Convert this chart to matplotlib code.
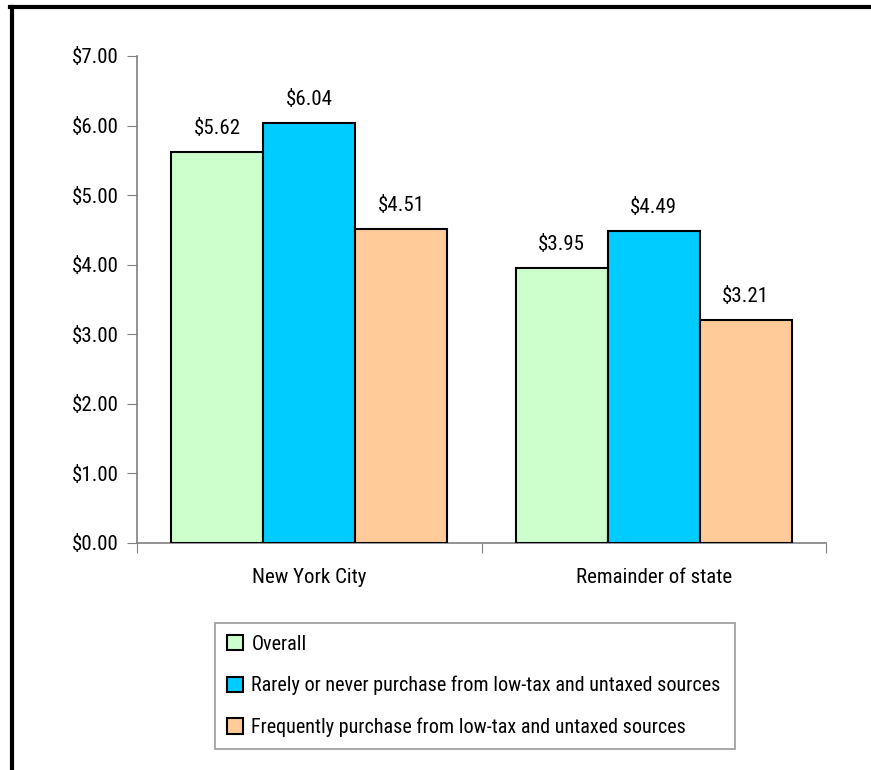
import matplotlib
matplotlib.use("Agg")
import matplotlib.pyplot as plt
from matplotlib.lines import Line2D
from matplotlib import font_manager
from matplotlib.font_manager import FontProperties
import numpy as np

categories = ["New York City", "Remainder of state"]
series_names = ["Overall",
                "Rarely or never purchase from low-tax and untaxed sources",
                "Frequently purchase from low-tax and untaxed sources"]
overall = [5.62, 3.95]
rarely = [6.04, 4.49]
frequently = [4.51, 3.21]
y_ticks = [0, 1, 2, 3, 4, 5, 6, 7]

colors = ["#CCFFCC", "#00CCFF", "#FFCC99"]

# find a condensed font if one is installed
fname = None
prefs = ["liberationsansnarrow-regular", "robotocondensed-regular", "opensanscondensed",
         "dejavusanscondensed.ttf", "notosans-condensed"]
files = [f.fname for f in font_manager.fontManager.ttflist]
for p in prefs:
    for f in files:
        if p in f.lower().replace(" ", "").replace("_", "-"):
            fname = f
            break
    if fname:
        break
if fname is None:
    for f in files:
        fl = f.lower()
        if ("condensed" in fl or "narrow" in fl) and "bold" not in fl and "italic" not in fl \
                and "oblique" not in fl and "light" not in fl and "semi" not in fl:
            fname = f
            break

if fname:
    fp = FontProperties(fname=fname, size=15)
    fpl = FontProperties(fname=fname, size=14.5)
else:
    fp = FontProperties(family="Liberation Sans", size=13)
    fpl = FontProperties(family="Liberation Sans", size=12.5)

fig = plt.figure(figsize=(8.71, 7.7), dpi=100)
ax = fig.add_axes([137/871, 1-543/770, (826-137)/871, (543-56)/770])

x = np.arange(len(categories))
w = 0.267
for i, (vals, name) in enumerate(zip([overall, rarely, frequently], series_names)):
    pos = x + (i-1)*w
    ax.bar(pos, vals, width=w, color=colors[i], edgecolor="black", linewidth=1.5, label=name, zorder=3)
    for p, v in zip(pos, vals):
        ax.text(p, v + 0.2, f"${v:.2f}", ha="center", va="bottom", fontproperties=fp)

ax.set_xlim(-0.5, 1.5)
ax.set_ylim(0, 7)
ax.set_yticks(y_ticks)
ax.set_yticklabels([f"${t:.2f}" for t in y_ticks], fontproperties=fp)
ax.set_xticks([-0.5, 0.5, 1.5])
ax.set_xticklabels([])
ax.set_xticks(x, minor=True)
ax.set_xticklabels(categories, minor=True, fontproperties=fp)
ax.tick_params(axis='x', which='minor', length=0, pad=18)
ax.tick_params(axis='x', which='major', length=7, direction='out', color="#808080")
ax.tick_params(axis='y', length=7, direction='out', color="#808080", pad=6)
for s in ["top", "right"]:
    ax.spines[s].set_visible(False)
for s in ["left", "bottom"]:
    ax.spines[s].set_color("#808080")
    ax.spines[s].set_linewidth(1.2)

leg = fig.legend(loc="lower left", bbox_to_anchor=(215/871, 1-749/770, (735-215)/871, (749-618)/770),
                 mode="expand", prop=fpl, frameon=True, fancybox=False, edgecolor="#808080",
                 borderaxespad=0, handlelength=0.8, handleheight=0.8, labelspacing=1.1,
                 borderpad=0.6, handletextpad=0.4)
leg.get_frame().set_linewidth(1.2)

# outer frame (left and top)
fig.add_artist(Line2D([12/871, 12/871], [0, 1-7/770], transform=fig.transFigure, color="black", linewidth=3))
fig.add_artist(Line2D([10/871, 1.0], [1-7/770, 1-7/770], transform=fig.transFigure, color="black", linewidth=3))

fig.savefig("out.png", dpi=100)
